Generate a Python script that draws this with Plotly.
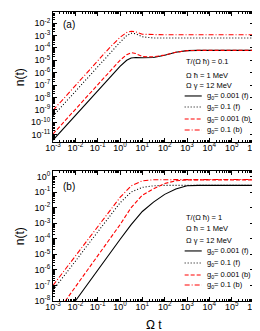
import numpy as np
import plotly.graph_objects as go

# ---- data (log10 t, log10 n) ----
# Panel (a): T/(Omega hbar) = 0.1
a_solid_t = [-3, -2, -1, -0.5, 0, 0.3, 0.5, 0.7, 1, 1.5, 2, 2.5, 3, 3.5, 4, 5, 6]
a_solid_n = [-11.45, -9.45, -7.45, -6.45, -5.5, -5.0, -4.82, -4.77, -4.8, -4.78, -4.6, -4.35, -4.22, -4.2, -4.2, -4.2, -4.2]
a_dot_t = [-3, -2, -1, -0.5, 0, 0.3, 0.5, 0.7, 1, 1.5, 2, 3, 4, 5, 6]
a_dot_n = [-9.5, -7.5, -5.5, -4.5, -3.55, -3.0, -2.82, -2.85, -3.1, -3.2, -3.2, -3.2, -3.2, -3.2, -3.2]
a_dash_t = [-3, -2, -1, -0.5, 0, 0.3, 0.5, 0.7, 1, 1.5, 2, 2.5, 3, 3.5, 4, 5, 6]
a_dash_n = [-10.95, -8.95, -6.95, -5.95, -5.0, -4.55, -4.38, -4.45, -4.7, -4.72, -4.58, -4.35, -4.22, -4.2, -4.2, -4.2, -4.2]
a_dd_t = [-3, -2, -1, -0.5, 0, 0.3, 0.5, 0.7, 1, 1.5, 2, 3, 4, 5, 6]
a_dd_n = [-9.05, -7.05, -5.05, -4.05, -3.15, -2.75, -2.65, -2.7, -2.9, -2.94, -2.94, -2.94, -2.94, -2.94, -2.94]

# Panel (b): T/(Omega hbar) = 1
b_solid_t = [-2.0, -1.5, -1, -0.5, 0, 0.5, 1, 1.5, 2, 2.5, 3, 3.5, 4, 5, 6]
b_solid_n = [-8.0, -7.0, -6.0, -5.0, -4.05, -3.1, -2.25, -1.65, -1.15, -0.8, -0.6, -0.57, -0.57, -0.57, -0.57]
b_dot_t = [-3, -2.5, -2, -1.5, -1, -0.5, 0, 0.5, 1, 1.5, 2, 3, 4, 5, 6]
b_dot_n = [-7.3, -6.4, -5.45, -4.5, -3.55, -2.6, -1.7, -1.0, -0.7, -0.6, -0.57, -0.57, -0.57, -0.57, -0.57]
b_dash_t = [-2.45, -2, -1.5, -1, -0.5, 0, 0.5, 1, 1.5, 2, 2.5, 3, 4, 5, 6]
b_dash_n = [-8.0, -7.1, -6.1, -5.1, -4.1, -3.1, -2.0, -1.2, -0.8, -0.45, -0.28, -0.22, -0.22, -0.22, -0.22]
b_dd_t = [-3, -2.5, -2, -1.5, -1, -0.5, 0, 0.5, 1, 1.5, 2, 3, 4, 5, 6]
b_dd_n = [-7.0, -6.05, -5.1, -4.15, -3.2, -2.25, -1.35, -0.6, -0.28, -0.21, -0.2, -0.2, -0.2, -0.2, -0.2]

# tick exponents
x_tick_exp = [-3, -2, -1, 0, 1, 2, 3, 4, 5, 6]
ya_tick_exp = [-11, -10, -9, -8, -7, -6, -5, -4, -3, -2]
yb_tick_exp = [-8, -7, -6, -5, -4, -3, -2, -1, 0]

legend_labels = ["g<sub>0</sub>= 0.001 (f)", "g<sub>0</sub>= 0.1 (f)",
                 "g<sub>0</sub>= 0.001 (b)", "g<sub>0</sub>= 0.1 (b)"]
styles = [("black", "solid"), ("black", "1px,2px"), ("red", "4px,2px"), ("red", "5px,2px,1px,2px")]
info_a = ["T/(Ω ħ) = 0.1", "Ω ħ = 1 MeV", "Ω γ = 12 MeV"]
info_b = ["T/(Ω ħ) = 1", "Ω ħ = 1 MeV", "Ω γ = 12 MeV"]

fig = go.Figure()

series_a = [(a_solid_t, a_solid_n), (a_dot_t, a_dot_n), (a_dash_t, a_dash_n), (a_dd_t, a_dd_n)]
series_b = [(b_solid_t, b_solid_n), (b_dot_t, b_dot_n), (b_dash_t, b_dash_n), (b_dd_t, b_dd_n)]

for (t, n), (c, d) in zip(series_a, styles):
    fig.add_trace(go.Scatter(x=10 ** np.array(t), y=10 ** np.array(n), mode="lines",
                             line=dict(color=c, dash=d, width=1.1), xaxis="x", yaxis="y",
                             showlegend=False))
for (t, n), (c, d) in zip(series_b, styles):
    fig.add_trace(go.Scatter(x=10 ** np.array(t), y=10 ** np.array(n), mode="lines",
                             line=dict(color=c, dash=d, width=1.1), xaxis="x2", yaxis="y2",
                             showlegend=False))

FONT = "Liberation Sans, Arial, sans-serif"

def pw(e):
    return "10<sup>%d</sup>" % e

def common():
    return dict(type="log", showline=True, linecolor="black", linewidth=1, mirror="allticks",
                ticks="inside", ticklen=4, tickcolor="black", showgrid=False, zeroline=False,
                minor=dict(ticks="inside", ticklen=2, tickcolor="black", dtick="D1", showgrid=False),
                tickfont=dict(size=9, family=FONT, color="black"), tickangle=0)

def xax(anchor):
    d = common()
    d.update(range=[-3, 6], tickmode="array", tickvals=[10.0 ** e for e in x_tick_exp],
             ticktext=[pw(e) for e in x_tick_exp], anchor=anchor, domain=[0, 1],
             ticklabelstandoff=-3)
    return d

def yax(rng, dom, anchor, exps):
    d = common()
    d.update(range=rng, tickmode="array", tickvals=[10.0 ** e for e in exps],
             ticktext=[pw(e) for e in exps], domain=dom, anchor=anchor)
    return d

fig.update_layout(
    width=260, height=331,
    margin=dict(l=45, r=14, t=4, b=38),
    paper_bgcolor="white", plot_bgcolor="white",
    font=dict(family=FONT, color="black"),
    xaxis=xax("y"),
    yaxis=yax([-11.6, -1.1], [0.5502, 1.0], "x", ya_tick_exp),
    xaxis2=xax("y2"),
    yaxis2=yax([-8.0, 0.35], [0.0, 0.4498], "x2", yb_tick_exp),
)

ann = []
shapes = []

def panel_deco(xr, yr, label, info, info_y, leg_y, lab_y):
    ann.append(dict(x=0.04, y=lab_y, xref=xr + " domain", yref=yr + " domain", text=label,
                    showarrow=False, xanchor="left", yanchor="middle",
                    font=dict(size=10, family=FONT, color="black")))
    ann.append(dict(x=-0.163, y=0.5, xref=xr + " domain", yref=yr + " domain", text="n(t)",
                    showarrow=False, xanchor="center", yanchor="middle", textangle=-90,
                    font=dict(size=12, family=FONT, color="black")))
    for txt, yy in zip(info, info_y):
        ann.append(dict(x=0.65, y=yy, xref=xr + " domain", yref=yr + " domain", text=txt,
                        showarrow=False, xanchor="left", yanchor="middle",
                        font=dict(size=7.5, family=FONT, color="black")))
    for lab, (c, d), yy in zip(legend_labels, styles, leg_y):
        shapes.append(dict(type="line", xref=xr + " domain", yref=yr + " domain",
                           x0=0.655, x1=0.74, y0=yy, y1=yy,
                           line=dict(color=c, dash=d, width=1.1)))
        ann.append(dict(x=0.755, y=yy, xref=xr + " domain", yref=yr + " domain", text=lab,
                        showarrow=False, xanchor="left", yanchor="middle",
                        font=dict(size=7.5, family=FONT, color="black")))

panel_deco("x", "y", "(a)", info_a, [0.623, 0.515, 0.438], [0.354, 0.269, 0.177, 0.092], 0.9)
panel_deco("x2", "y2", "(b)", info_b, [0.646, 0.554, 0.469], [0.385, 0.292, 0.2, 0.123], 0.88)

ann.append(dict(x=0.5, y=-0.082, xref="paper", yref="paper", text="Ω t", showarrow=False,
                xanchor="center", yanchor="middle", font=dict(size=12, family=FONT, color="black")))

fig.update_layout(annotations=ann, shapes=shapes)
fig.write_html("out.html")
